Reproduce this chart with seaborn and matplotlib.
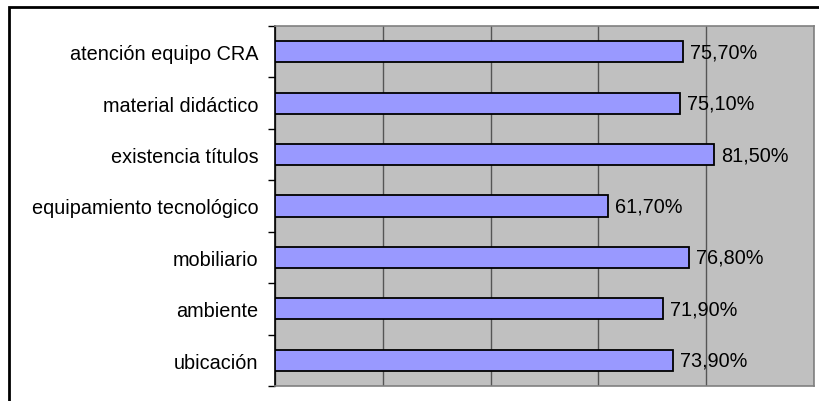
import matplotlib
matplotlib.use("Agg")
import matplotlib.pyplot as plt
import seaborn as sns
import pandas as pd
from matplotlib.patches import Rectangle

categories = ["atención equipo CRA", "material didáctico", "existencia títulos",
              "equipamiento tecnológico", "mobiliario", "ambiente", "ubicación"]
values = [75.7, 75.1, 81.5, 61.7, 76.8, 71.9, 73.9]

sns.set_theme(style="white")
plt.rcParams['font.family'] = ['Liberation Sans', 'DejaVu Sans']

df = pd.DataFrame({"cat": categories, "val": values})

fig = plt.figure(figsize=(8.2, 4.02), dpi=100)
fig.patch.set_facecolor("white")
# outer frame (clipped at right/bottom as in the reference)
fig.patches.append(Rectangle((9/820, -0.05), 1.0, 1 - 8/402 + 0.05,
                             transform=fig.transFigure, fill=False,
                             edgecolor="black", linewidth=2))

ax = fig.add_axes([275/820, 15/402, 539/820, 360/402])
ax.set_facecolor("#C0C0C0")
sns.barplot(data=df, x="val", y="cat", orient="h", color="#9999FF",
            saturation=1, width=0.41, edgecolor="black", linewidth=1.3, ax=ax,
            zorder=3)
ax.set_xlim(0, 100)
ax.set_ylim(6.5, -0.5)
ax.set_xlabel("")
ax.set_ylabel("")
ax.set_xticks([0, 20, 40, 60, 80, 100])
ax.xaxis.grid(True, color="#555555", linewidth=1.0, zorder=1)
ax.set_axisbelow(True)
ax.tick_params(axis="x", bottom=False, labelbottom=False)
ax.set_yticks(range(len(categories)))
ax.set_yticklabels(categories, fontsize=14.3, color="black")
ax.set_yticks([i - 0.5 for i in range(len(categories) + 1)], minor=True)
ax.tick_params(axis="y", which="major", length=0, pad=12)
ax.tick_params(axis="y", which="minor", left=True, length=5, width=1, color="black", direction="out")

for s in ["top", "right", "bottom"]:
    ax.spines[s].set_color("#808080")
    ax.spines[s].set_linewidth(1.2)
ax.spines["left"].set_color("black")
ax.spines["left"].set_linewidth(1.2)

for i, v in enumerate(values):
    ax.text(v + 1.3, i, f"{v:.2f}%".replace(".", ","), va="center", ha="left",
            fontsize=14.3, color="black", zorder=4)

fig.savefig("out.png", dpi=100)
